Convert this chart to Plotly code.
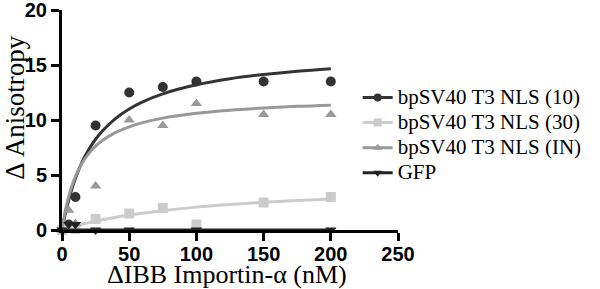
import plotly.graph_objects as go

# measured points
x_pts = [0, 5, 10, 25, 50, 75, 100, 150, 200]
y_10 = [0, 0.5, 3.0, 9.5, 12.5, 13.0, 13.5, 13.5, 13.5]
y_30 = [0, 0.2, 0.1, 1.0, 1.5, 2.0, 0.5, 2.5, 3.0]
y_in = [0, 1.8, 0.6, 4.0, 10.0, 9.5, 11.5, 10.5, 10.5]
x_gfp = [0, 5, 10, 25, 50, 100, 200]
y_gfp = [0, 0.5, 0.5, 0, 0, 0, 0]

# fitted curves
x_fit = [0, 2, 5, 10, 15, 20, 25, 30, 40, 50, 60, 75, 100, 125, 150, 175, 200]
fit_10 = [0, 1.22, 2.75, 4.71, 6.19, 7.33, 8.25, 9.0, 10.15, 11.0, 11.65, 12.38, 13.2, 13.75, 14.14, 14.44, 14.67]
fit_30 = [0, 0.08, 0.19, 0.36, 0.52, 0.67, 0.80, 0.93, 1.16, 1.36, 1.53, 1.76, 2.08, 2.32, 2.52, 2.68, 2.82]
fit_in = [0, 1.44, 3.05, 4.88, 6.1, 6.97, 7.63, 8.13, 8.87, 9.38, 9.76, 10.17, 10.61, 10.89, 11.09, 11.24, 11.35]
x_gfp_fit = [0, 200]
fit_gfp = [0, 0]

names = ["bpSV40 T3 NLS (10)", "bpSV40 T3 NLS (30)", "bpSV40 T3 NLS (IN)", "GFP"]
colors = ["#333333", "#cccccc", "#999999", "#222222"]
symbols = ["circle", "square", "triangle-up", "triangle-down"]

x_ticks = [0, 50, 100, 150, 200, 250]
y_ticks = [0, 5, 10, 15, 20]
x_title = "ΔIBB Importin-α (nM)"
y_title = "Δ Anisotropy"

fig = go.Figure()
series = [
    (x_pts, y_10, x_fit, fit_10),
    (x_pts, y_30, x_fit, fit_30),
    (x_pts, y_in, x_fit, fit_in),
    (x_gfp, y_gfp, x_gfp_fit, fit_gfp),
]
for (xp, yp, xf, yf), name, col, sym in zip(series, names, colors, symbols):
    fig.add_trace(go.Scatter(x=xf, y=yf, mode="lines", line=dict(color=col, width=3, shape="spline"),
                             showlegend=False, cliponaxis=False, hoverinfo="skip"))
    fig.add_trace(go.Scatter(x=xp, y=yp, mode="markers", marker=dict(color=col, symbol=sym, size=10),
                             showlegend=False, cliponaxis=False, name=name))
    fig.add_trace(go.Scatter(x=[None], y=[None], mode="lines+markers",
                             name=f"<span style='font-size:21px'>{name}</span>",
                             line=dict(color=col, width=3), marker=dict(color=col, symbol=sym, size=8)))

axis_common = dict(showline=True, linecolor="black", linewidth=3, ticks="outside", ticklen=8,
                   tickwidth=3, tickcolor="black", showgrid=False, zeroline=False, automargin=False,
                   ticklabeloverflow="allow",
                   tickfont=dict(family="Liberation Sans", size=20, color="black", weight="bold"))
fig.update_xaxes(range=[0, 250], tickvals=x_ticks, ticklabelstandoff=-4, **axis_common)
fig.update_yaxes(range=[0, 20], tickvals=y_ticks, **axis_common)

fig.add_annotation(text=x_title, xref="paper", yref="paper", x=0.49, y=-0.2, xanchor="center",
                   yanchor="middle", showarrow=False,
                   font=dict(family="Liberation Serif", size=26, color="black"))
fig.add_annotation(text=y_title, xref="paper", yref="paper", x=-0.14, y=0.56, xanchor="center",
                   yanchor="middle", showarrow=False, textangle=-90,
                   font=dict(family="Liberation Serif", size=27, color="black"))

fig.update_layout(
    width=600, height=289,
    margin=dict(l=62, r=202, t=10, b=59),
    plot_bgcolor="white", paper_bgcolor="white",
    legend=dict(x=0.88, y=0.43, xanchor="left", yanchor="middle", tracegroupgap=0,
                font=dict(family="Liberation Serif", size=17, color="black"),
                itemwidth=30, bgcolor="rgba(0,0,0,0)"),
)
fig.write_html("out.html", config={"displayModeBar": False},
               post_script="document.body.style.margin='0';document.body.style.overflow='hidden';")
